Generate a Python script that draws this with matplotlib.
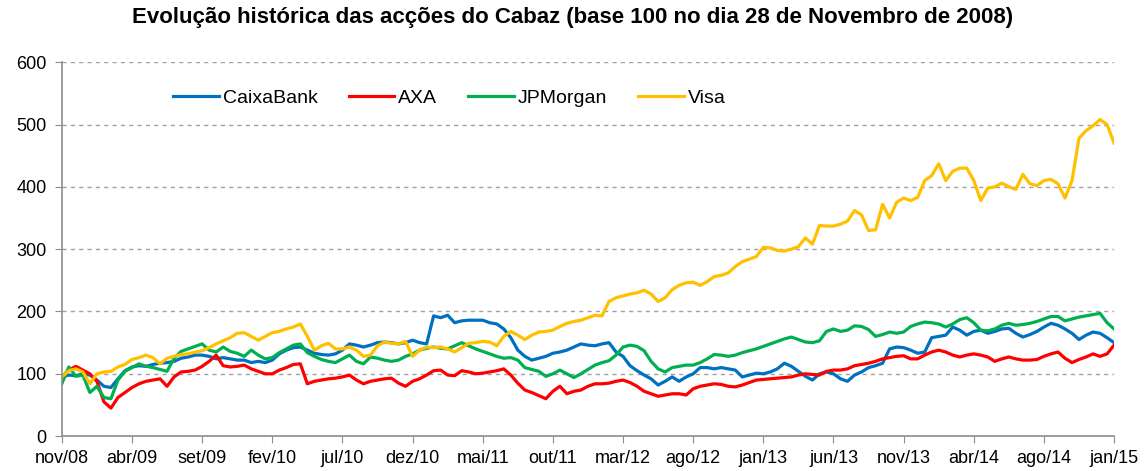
import numpy as np
import matplotlib.pyplot as plt

# category-axis labels (one every ~5 months of trading days)
tick_labels = ["nov/08", "abr/09", "set/09", "fev/10", "jul/10", "dez/10", "mai/11", "out/11",
               "mar/12", "ago/12", "jan/13", "jun/13", "nov/13", "abr/14", "ago/14", "jan/15"]

# index values, base 100 on 28 Nov 2008, sampled 10 times per label interval
caixabank = [
    95, 98, 97, 100, 98, 90, 80, 78, 92, 105,
    111, 113, 112, 115, 117, 118, 120, 125, 127, 130,
    130, 128, 124, 126, 124, 122, 122, 118, 120, 118,
    122, 132, 138, 142, 143, 138, 133, 131, 130, 132,
    138, 148, 146, 143, 146, 150, 151, 150, 148, 150,
    154, 150, 148, 193, 190, 194, 182, 185, 186, 186,
    186, 182, 180, 172, 158, 138, 128, 122, 125, 128,
    133, 135, 138, 143, 148, 146, 145, 148, 150, 135,
    128, 113, 105, 98, 92, 82, 88, 95, 88, 95,
    100, 110, 110, 108, 110, 108, 106, 95, 98, 101,
    100, 103, 108, 117, 112, 104, 96, 90, 100, 103,
    100, 92, 88, 98, 103, 110, 113, 117, 140, 143,
    142, 138, 133, 135, 158, 160, 162, 175, 170, 162,
    168, 170, 165, 168, 172, 173, 165, 159, 163, 168,
    175, 181, 178, 172, 165, 155, 162, 167, 165, 158,
    150]

axa = [
    95, 106, 112, 106, 100, 88, 55, 45, 62, 70,
    78, 84, 88, 90, 92, 80, 95, 103, 104, 106,
    112, 120, 130, 113, 111, 112, 114, 108, 104, 100,
    100, 106, 110, 115, 116, 84, 88, 90, 92, 93,
    95, 98, 90, 84, 88, 90, 92, 93, 85, 80,
    88, 92, 98, 105, 106, 98, 97, 105, 103, 100,
    101, 103, 105, 108, 98, 85, 74, 70, 65, 60,
    72, 80, 68, 72, 74, 80, 84, 84, 85, 88,
    90, 86, 80, 72, 68, 64, 66, 68, 68, 66,
    76, 80, 82, 84, 83, 80, 79, 82, 86, 90,
    91, 92, 93, 94, 95, 98, 100, 99, 98, 104,
    106, 106, 108, 113, 115, 117, 120, 124, 126, 128,
    129, 124, 124, 130, 135, 138, 135, 130, 127, 130,
    132, 130, 127, 120, 124, 127, 124, 122, 122, 123,
    128, 132, 135, 125, 118, 123, 127, 132, 128, 132,
    146]

jpmorgan = [
    84, 111, 96, 98, 70, 80, 62, 60, 90, 104,
    110, 116, 112, 110, 107, 104, 125, 136, 140, 144,
    148, 138, 135, 143, 136, 133, 128, 138, 130, 124,
    126, 134, 140, 146, 148, 134, 128, 123, 120, 118,
    124, 130, 120, 116, 127, 125, 122, 120, 122, 128,
    132, 138, 141, 143, 141, 140, 145, 150, 145, 140,
    136, 132, 128, 125, 126, 122, 110, 107, 104, 96,
    100, 106, 100, 94, 100, 107, 114, 118, 121, 130,
    143, 146, 144, 137, 120, 108, 103, 110, 112, 114,
    114, 118, 124, 131, 130, 128, 130, 134, 137, 140,
    144, 148, 152, 156, 159, 155, 151, 150, 153, 168,
    172, 168, 170, 177, 176, 171, 160, 163, 167, 165,
    167, 176, 180, 183, 182, 180, 175, 180, 187, 190,
    182, 170, 169, 172, 178, 181, 178, 179, 181, 184,
    188, 192, 192, 185, 188, 191, 193, 195, 197, 182,
    172]

visa = [
    95, 105, 108, 103, 84, 100, 103, 104, 111, 115,
    123, 126, 130, 126, 116, 125, 128, 131, 132, 135,
    137, 142, 148, 153, 158, 165, 166, 160, 154, 160,
    166, 168, 172, 175, 180, 160, 138, 145, 149, 140,
    140, 143, 138, 128, 130, 145, 151, 149, 148, 152,
    128, 138, 143, 142, 143, 140, 135, 142, 149, 150,
    152, 151, 145, 160, 168, 162, 155, 162, 167, 168,
    170, 176, 181, 184, 186, 190, 194, 193, 216, 222,
    225, 228, 230, 234, 228, 216, 222, 235, 242, 246,
    247, 242, 248, 256, 258, 262, 272, 280, 284, 288,
    303, 302, 298, 297, 300, 304, 318, 308, 338, 337,
    337, 340, 345, 362, 355, 330, 331, 372, 350, 375,
    382, 378, 383, 410, 418, 437, 410, 425, 430, 430,
    410, 378, 398, 400, 406, 400, 396, 420, 405, 402,
    410, 412, 405, 382, 410, 478, 490, 498, 508, 500,
    470]

series = [("CaixaBank", caixabank, "#0070C0"),
          ("AXA", axa, "#FF0000"),
          ("JPMorgan", jpmorgan, "#00B050"),
          ("Visa", visa, "#FFC000")]

plt.rcParams['font.family'] = ['Liberation Sans', 'DejaVu Sans']

fig = plt.figure(figsize=(11.45, 4.71), dpi=100)
ax = fig.add_axes([0.054, 0.074, 0.919, 0.794])

t = np.arange(len(visa)) / 10.0
for name, vals, col in series:
    ax.plot(t, vals, color=col, lw=2.3, label=name, solid_joinstyle='round')

ax.set_xlim(0, len(tick_labels) - 1)
ax.set_ylim(0, 600)
ax.set_xticks(range(len(tick_labels)))
ax.set_xticklabels(tick_labels)
ax.set_yticks(range(0, 601, 100))
ax.tick_params(axis='both', labelsize=13, colors='#8c8c8c', labelcolor='black', length=5)
ax.tick_params(axis='x', pad=5)
ax.tick_params(axis='y', pad=6)

ax.grid(axis='y', linestyle=(0, (3, 3)), color='#a0a0a0', lw=1)
ax.set_axisbelow(True)
for s in ['top', 'right']:
    ax.spines[s].set_visible(False)
for s in ['left', 'bottom']:
    ax.spines[s].set_color('#8c8c8c')
    ax.spines[s].set_linewidth(1.2)

ax.legend(loc='upper left', bbox_to_anchor=(0.089, 0.975), ncol=4, frameon=False,
          fontsize=14, handlelength=2.35, handletextpad=0.2, columnspacing=1.6)

fig.suptitle("Evolução histórica das acções do Cabaz (base 100 no dia 28 de Novembro de 2008)",
             x=0.5, y=0.985, fontsize=16, fontweight='bold')

fig.savefig("out.png", dpi=100)
